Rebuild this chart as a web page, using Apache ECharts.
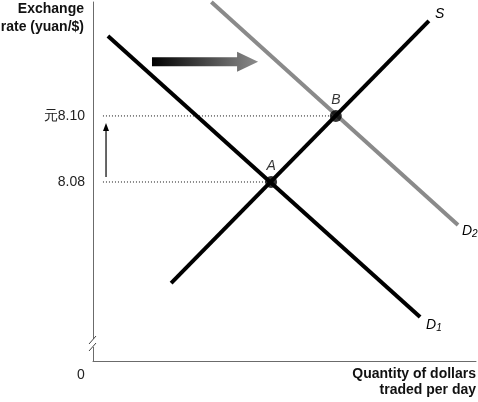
<!DOCTYPE html>
<html><head><meta charset="utf-8">
<script src="https://cdn.jsdelivr.net/npm/echarts@6/dist/echarts.min.js"></script>
<style>html,body{margin:0;padding:0;background:#fff}#c{width:478px;height:402px}</style>
</head><body><div id="c"></div>
<script>
// Quantity (arbitrary units 0-100) and exchange rate (yuan per $)
const xRange = [0, 100];
const yRange = [8.0258, 8.1345];
const yTicks = [8.08, 8.10];
const yTickLabels = ['8.08', '元8.10'];
const d1Qty = [3.9, 85.4];
const d1Rate = [8.1242, 8.0391];
const sQty = [20.4, 87.7];
const sRate = [8.0494, 8.1288];
const d2Qty = [30.9, 95.3];
const d2Rate = [8.1345, 8.0670];
const eqNames = ['A', 'B'];
const eqQty = [46.5, 63.4];
const eqRate = [8.08, 8.10];
const guideStartQty = 2.6;
const shiftArrowQty = [15.4, 43.1];
const shiftArrowRate = 8.1164;
const riseArrowQty = 3.4;
const riseArrowRate = [8.0815, 8.0979];

const FONT = '"Liberation Sans", Arial, Helvetica, sans-serif';
const pts = (xs, ys) => xs.map((x, i) => [x, ys[i]]);

const chart = echarts.init(document.getElementById('c'), null, {renderer: 'canvas'});
const endLbl = (rich, fmt, off) => ({
  show: true, formatter: fmt, offset: off, fontFamily: FONT, fontStyle: 'italic',
  fontSize: 14, color: '#000', rich: rich
});
const subRich = {
  d: {fontFamily: FONT, fontStyle: 'italic', fontSize: 14, color: '#000'},
  s: {fontFamily: FONT, fontSize: 10, color: '#000', verticalAlign: 'bottom', padding: [6, 0, 0, 0]}
};
const option = {
  animation: false,
  grid: {left: 93, right: 2, top: 2, bottom: 41},
  xAxis: {
    type: 'value', min: xRange[0], max: xRange[1],
    axisLine: {show: true, lineStyle: {color: '#6b6b6b', width: 1}},
    axisTick: {show: false}, axisLabel: {show: false}, splitLine: {show: false}
  },
  yAxis: {
    type: 'value', min: yRange[0], max: yRange[1],
    axisLine: {show: true, lineStyle: {color: '#6b6b6b', width: 1}},
    axisTick: {show: false}, splitLine: {show: false},
    axisLabel: {
      show: true, customValues: yTicks, margin: 8,
      fontFamily: FONT, fontSize: 14, color: '#222',
      formatter: v => yTickLabels[yTicks.findIndex(t => Math.abs(t - v) < 1e-6)]
    }
  },
  series: [
    {type: 'line', data: [[guideStartQty, eqRate[0]], [eqQty[0], eqRate[0]]], symbol: 'none',
     lineStyle: {color: '#111', width: 1, type: [1, 2]}, z: 1},
    {type: 'line', data: [[guideStartQty, eqRate[1]], [eqQty[1], eqRate[1]]], symbol: 'none',
     lineStyle: {color: '#111', width: 1, type: [1, 2]}, z: 1},
    {type: 'line', name: 'D2', data: pts(d2Qty, d2Rate), symbol: 'none', clip: false,
     lineStyle: {color: '#8a8a8a', width: 4, cap: 'butt'}, z: 2,
     endLabel: endLbl(subRich, '{d|D}{s|2}', [-4, 6])},
    {type: 'line', name: 'D1', data: pts(d1Qty, d1Rate), symbol: 'none',
     lineStyle: {color: '#000', width: 4, cap: 'butt'}, z: 3,
     endLabel: endLbl(subRich, '{d|D}{s|1}', [-2, 8])},
    {type: 'line', name: 'S', data: pts(sQty, sRate), symbol: 'none',
     lineStyle: {color: '#000', width: 4, cap: 'butt'}, z: 3,
     endLabel: endLbl(null, 'S', [-2, -7])},
    {type: 'scatter', data: eqNames.map((n, i) => ({name: n, value: [eqQty[i], eqRate[i]]})),
     symbol: 'circle', symbolSize: 12, itemStyle: {color: '#000'}, z: 5,
     label: {show: true, position: 'top', distance: 3, formatter: p => p.name,
       fontFamily: FONT, fontStyle: 'italic', fontSize: 14, color: '#000'}}
  ]
};
chart.setOption(option);

const px = (x, y) => chart.convertToPixel({gridIndex: 0}, [x, y]);
const a0 = px(shiftArrowQty[0], shiftArrowRate), a1 = px(shiftArrowQty[1], shiftArrowRate);
const headLen = 21, shaftH = 4.5, headH = 10;
const r0 = px(riseArrowQty, riseArrowRate[0]), r1 = px(riseArrowQty, riseArrowRate[1]);
const o = px(xRange[0], yRange[0]);
const grad = new echarts.graphic.LinearGradient(0, 0, 1, 0, [
  {offset: 0, color: '#000'}, {offset: 1, color: '#8c8c8c'}
]);
chart.setOption({
  graphic: [
    {type: 'polygon', z: 10, shape: {points: [
      [a0[0], a0[1] - shaftH], [a1[0] - headLen, a0[1] - shaftH], [a1[0] - headLen, a0[1] - headH],
      [a1[0], a0[1]], [a1[0] - headLen, a0[1] + headH], [a1[0] - headLen, a0[1] + shaftH],
      [a0[0], a0[1] + shaftH]]}, style: {fill: grad}},
    {type: 'line', z: 10, shape: {x1: r0[0], y1: r0[1], x2: r1[0], y2: r1[1] + 6},
     style: {stroke: '#000', lineWidth: 1.2}},
    {type: 'polygon', z: 10, shape: {points: [[r1[0], r1[1]], [r1[0] - 3, r1[1] + 8], [r1[0] + 3, r1[1] + 8]]},
     style: {fill: '#000'}},
    // axis break
    {type: 'rect', z: 20, shape: {x: o[0] - 3, y: o[1] - 22, width: 6, height: 8}, style: {fill: '#fff'}},
    {type: 'line', z: 21, shape: {x1: o[0] - 4, y1: o[1] - 17, x2: o[0] + 3, y2: o[1] - 25},
     style: {stroke: '#444', lineWidth: 1}},
    {type: 'line', z: 21, shape: {x1: o[0] - 4, y1: o[1] - 10, x2: o[0] + 3, y2: o[1] - 18},
     style: {stroke: '#444', lineWidth: 1}},
    {type: 'text', z: 20, style: {text: '0', x: o[0] - 12, y: o[1] + 14, align: 'center', verticalAlign: 'middle',
      font: '14px ' + FONT, fill: '#222'}},
    {type: 'text', z: 20, style: {text: 'Exchange\nrate (yuan/$)', x: 84, y: 0, align: 'right', verticalAlign: 'top',
      font: 'bold 14px ' + FONT, fill: '#111', lineHeight: 18}},
    {type: 'text', z: 20, style: {text: 'Quantity of dollars\ntraded per day', x: 476, y: 366, align: 'right', verticalAlign: 'top',
      font: 'bold 14px ' + FONT, fill: '#111', lineHeight: 16}}
  ]
});
</script></body></html>
